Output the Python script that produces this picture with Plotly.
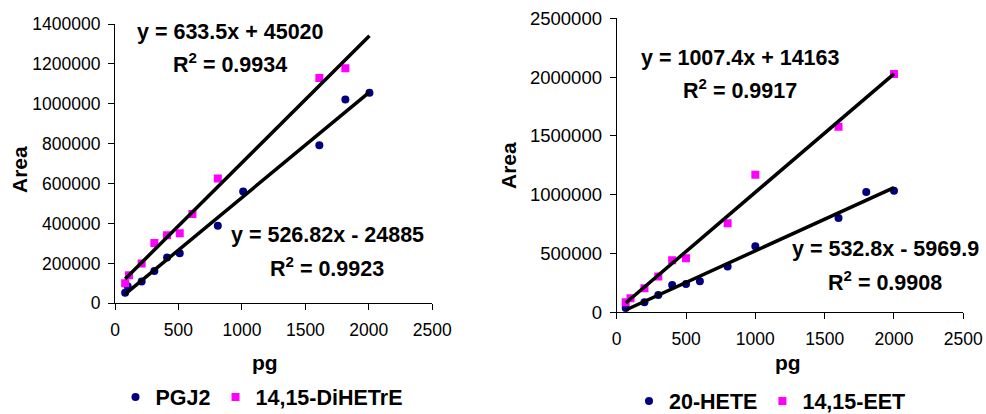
import numpy as np
import plotly.graph_objects as go

# ---------------- data ----------------
# Left chart
pgj2_x = [80, 100, 210, 310, 410, 510, 810, 1010, 1610, 1815, 2005]
pgj2_y = [53000, 85000, 109000, 162000, 229000, 251000, 389000, 561000, 792000, 1022000, 1056000]
dihetre_x = [80, 110, 210, 310, 410, 510, 610, 810, 1610, 1815]
dihetre_y = [100000, 140000, 200000, 302000, 341000, 351000, 448000, 626000, 1129000, 1178000]
left_trend_range = [80, 2005]

# Right chart
hete_x = [65, 200, 300, 400, 500, 600, 800, 1000, 1600, 1800, 2000]
hete_y = [37000, 85000, 148000, 233000, 241000, 264000, 389000, 562000, 801000, 1023000, 1034000]
eet_x = [65, 100, 200, 300, 400, 500, 800, 1000, 1600, 2000]
eet_y = [85000, 119000, 205000, 304000, 443000, 460000, 758000, 1170000, 1577000, 2026000]
right_trend_range = [65, 2000]

eq_left_upper = ["y = 633.5x + 45020", "R<sup>2</sup> = 0.9934"]
eq_left_lower = ["y = 526.82x - 24885", "R<sup>2</sup> = 0.9923"]
eq_right_upper = ["y = 1007.4x + 14163", "R<sup>2</sup> = 0.9917"]
eq_right_lower = ["y = 532.8x - 5969.9", "R<sup>2</sup> = 0.9908"]

# ---------------- styling ----------------
W, H = 986, 414
FONT = "Liberation Sans, Arial, sans-serif"
NAVY = "#000080"
MAGENTA = "#FF00FF"


def fx(p):
    return p / W


def fy(p):
    return 1 - p / H


def trend(xs, ys, xr):
    k, b = np.polyfit(xs, ys, 1)
    xx = np.array(xr, dtype=float)
    return xx, k * xx + b


fig = go.Figure()

# Left chart markers
fig.add_trace(go.Scatter(x=pgj2_x, y=pgj2_y, mode="markers", name="PGJ2",
                         marker=dict(symbol="circle", size=8, color=NAVY),
                         xaxis="x", yaxis="y", legend="legend"))
fig.add_trace(go.Scatter(x=dihetre_x, y=dihetre_y, mode="markers", name="14,15-DiHETrE",
                         marker=dict(symbol="square", size=8, color=MAGENTA),
                         xaxis="x", yaxis="y", legend="legend"))
for xs, ys in [(pgj2_x, pgj2_y), (dihetre_x, dihetre_y)]:
    tx, ty = trend(xs, ys, left_trend_range)
    fig.add_trace(go.Scatter(x=tx, y=ty, mode="lines", showlegend=False,
                             line=dict(color="black", width=3.5),
                             xaxis="x", yaxis="y", hoverinfo="skip"))

# Right chart markers
fig.add_trace(go.Scatter(x=hete_x, y=hete_y, mode="markers", name="20-HETE",
                         marker=dict(symbol="circle", size=8, color=NAVY),
                         xaxis="x2", yaxis="y2", legend="legend2"))
fig.add_trace(go.Scatter(x=eet_x, y=eet_y, mode="markers", name="14,15-EET",
                         marker=dict(symbol="square", size=8, color=MAGENTA),
                         xaxis="x2", yaxis="y2", legend="legend2"))
for xs, ys in [(hete_x, hete_y), (eet_x, eet_y)]:
    tx, ty = trend(xs, ys, right_trend_range)
    fig.add_trace(go.Scatter(x=tx, y=ty, mode="lines", showlegend=False,
                             line=dict(color="black", width=3.5),
                             xaxis="x2", yaxis="y2", hoverinfo="skip"))

axis_common = dict(showline=True, linecolor="black", linewidth=1, showgrid=False,
                   zeroline=False, ticks="outside", ticklen=6, tickwidth=1,
                   tickcolor="black", tickformat="d",
                   tickfont=dict(family=FONT, size=17.5, color="black"))
x_common = dict(axis_common, ticklabelstandoff=5)
y_common = dict(axis_common, ticklabelstandoff=4)

legend_font = dict(family=FONT, size=21.5, color="black", weight="bold")

fig.update_layout(
    width=W, height=H,
    margin=dict(l=0, r=0, t=0, b=0, autoexpand=False),
    paper_bgcolor="white", plot_bgcolor="white",
    font=dict(family=FONT, color="black"),
    xaxis=dict(domain=[fx(115), fx(432.3)], range=[0, 2500], dtick=500,
               anchor="y", **x_common),
    yaxis=dict(domain=[fy(303.3), fy(24)], range=[0, 1400000], dtick=200000,
               anchor="x", **y_common),
    xaxis2=dict(domain=[fx(616.7), fx(963.3)], range=[0, 2500], dtick=500,
                anchor="y2", **x_common),
    yaxis2=dict(domain=[fy(312.3), fy(18.3)], range=[0, 2500000], dtick=500000,
                anchor="x2", **{**y_common,
                                "tickfont": dict(family=FONT, size=18.5, color="black")}),
    legend=dict(orientation="h", x=fx(262), xanchor="center", y=fy(397), yanchor="middle",
                font=legend_font, bgcolor="rgba(0,0,0,0)"),
    legend2=dict(orientation="h", x=fx(770), xanchor="center", y=fy(401), yanchor="middle",
                 font=legend_font, bgcolor="rgba(0,0,0,0)"),
)

annots = []


def txt(text, xp, yp, size=21.5, angle=0):
    annots.append(dict(text="<b>" + text + "</b>", x=fx(xp), y=fy(yp), xref="paper", yref="paper",
                       showarrow=False, xanchor="center", yanchor="middle", textangle=angle,
                       font=dict(family=FONT, size=size, color="black")))


txt(eq_left_upper[0], 230, 32)
txt(eq_left_upper[1], 230, 63)
txt(eq_left_lower[0], 327, 235)
txt(eq_left_lower[1], 327, 267)
txt(eq_right_upper[0], 740, 58)
txt(eq_right_upper[1], 740, 89)
txt(eq_right_lower[0], 885, 249)
txt(eq_right_lower[1], 885, 281)

# axis titles
txt("Area", 19, 170, size=21, angle=-90)
txt("pg", 265, 362, size=21)
txt("Area", 508, 165, size=21, angle=-90)
txt("pg", 788, 362, size=21)

fig.update_layout(annotations=annots)

fig.write_html("out.html")
